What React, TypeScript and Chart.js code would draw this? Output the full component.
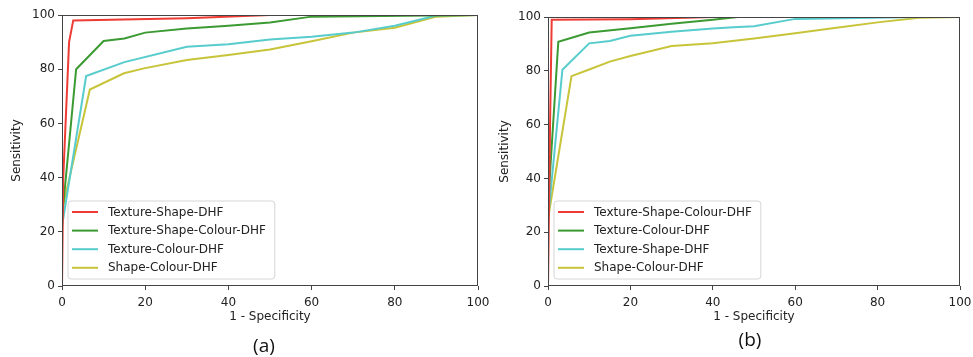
import React, { useEffect, useRef } from "react";
import { Chart, registerables } from "chart.js";

Chart.register(...registerables);

// ---------- data ----------
const xTickValues = [0, 20, 40, 60, 80, 100];
const yTickValues = [0, 20, 40, 60, 80, 100];

const seriesColors = ["#ee3b33", "#3c9a33", "#58cccc", "#c8c43a"];

// Panel (a)
const aLabels = ["Texture-Shape-DHF", "Texture-Shape-Colour-DHF", "Texture-Colour-DHF", "Shape-Colour-DHF"];
const aRedX = [0, 0.3, 1.7, 2.7, 30, 50, 100];
const aRedY = [0, 40, 90, 98, 98.8, 100, 100];
const aGreenX = [0, 0, 3.4, 10, 15, 20, 30, 40, 50, 60, 100];
const aGreenY = [0, 25, 80, 90.4, 91.3, 93.5, 95, 96, 97.2, 99.4, 100];
const aCyanX = [0, 0, 5.8, 15, 30, 40, 50, 60, 70, 80, 90, 100];
const aCyanY = [0, 22, 77.5, 82.6, 88.3, 89.2, 91, 92, 93.5, 96, 99.8, 100];
const aYellowX = [0, 0, 6.7, 14.9, 19.7, 30, 40, 50, 60, 70, 80, 90, 100];
const aYellowY = [0, 28, 72.5, 78.5, 80.3, 83.4, 85.2, 87.3, 90.3, 93.5, 95.3, 99.4, 100];

// Panel (b)
const bLabels = ["Texture-Shape-Colour-DHF", "Texture-Colour-DHF", "Texture-Shape-DHF", "Shape-Colour-DHF"];
const bRedX = [0, 0.5, 0.9, 20, 40, 100];
const bRedY = [0, 60, 99, 99.2, 100, 100];
const bGreenX = [0, 0, 2.5, 10, 20, 30, 40, 46, 100];
const bGreenY = [0, 30, 90.8, 94.2, 95.8, 97.5, 99, 100, 100];
const bCyanX = [0, 0, 3.5, 10, 15, 20, 30, 40, 45, 50, 60, 90, 100];
const bCyanY = [0, 25, 80.4, 90.2, 91.1, 93, 94.5, 95.7, 96.2, 96.6, 99.3, 100, 100];
const bYellowX = [0, 0, 5.7, 10, 15, 20, 30, 40, 50, 60, 70, 80, 90, 100];
const bYellowY = [0, 25, 78, 80.5, 83.4, 85.5, 89.2, 90.2, 92, 94, 96, 98, 99.7, 100];

const FONT = "'DejaVu Sans', sans-serif";

function pts(xs: number[], ys: number[]) {
  return xs.map((x, i) => ({ x, y: ys[i] }));
}

const boxLegendPlugin = {
  id: "boxLegend",
  afterDatasetsDraw(chart: any) {
    const { ctx, chartArea } = chart;
    const ds = chart.data.datasets;
    ctx.save();
    ctx.font = `12px ${FONT}`;
    let maxW = 0;
    ds.forEach((d: any) => {
      maxW = Math.max(maxW, ctx.measureText(d.label).width);
    });
    const bx = chartArea.left + 6;
    const bh = 78;
    const by = chartArea.bottom - 7 - bh;
    const bw = 40 + maxW + 9;
    ctx.beginPath();
    const r = 3;
    ctx.moveTo(bx + r, by);
    ctx.lineTo(bx + bw - r, by);
    ctx.quadraticCurveTo(bx + bw, by, bx + bw, by + r);
    ctx.lineTo(bx + bw, by + bh - r);
    ctx.quadraticCurveTo(bx + bw, by + bh, bx + bw - r, by + bh);
    ctx.lineTo(bx + r, by + bh);
    ctx.quadraticCurveTo(bx, by + bh, bx, by + bh - r);
    ctx.lineTo(bx, by + r);
    ctx.quadraticCurveTo(bx, by, bx + r, by);
    ctx.closePath();
    ctx.fillStyle = "rgba(255,255,255,0.85)";
    ctx.fill();
    ctx.strokeStyle = "#d6d6d6";
    ctx.lineWidth = 1;
    ctx.stroke();
    ds.forEach((d: any, i: number) => {
      const cy = by + 11 + i * 18.6;
      ctx.beginPath();
      ctx.strokeStyle = d.borderColor;
      ctx.lineWidth = 2;
      ctx.moveTo(bx + 4, cy);
      ctx.lineTo(bx + 30, cy);
      ctx.stroke();
      ctx.fillStyle = "#222";
      ctx.textBaseline = "middle";
      ctx.textAlign = "left";
      ctx.fillText(d.label, bx + 40, cy + 0.5);
    });
    ctx.restore();
  },
  afterDraw(chart: any) {
    const { ctx, chartArea } = chart;
    ctx.save();
    ctx.strokeStyle = "#444";
    ctx.lineWidth = 1;
    ctx.strokeRect(
      Math.round(chartArea.left) + 0.5,
      Math.round(chartArea.top) + 0.5,
      Math.round(chartArea.right - chartArea.left) - 1,
      Math.round(chartArea.bottom - chartArea.top) - 1
    );
    ctx.restore();
  },
};

function makeConfig(labels: string[], xsList: number[][], ysList: number[][], top: number, right: number, yTitlePad: number): any {
  return {
    type: "line",
    data: {
      datasets: labels.map((label, i) => ({
        label,
        data: pts(xsList[i], ysList[i]),
        borderColor: seriesColors[i],
        backgroundColor: seriesColors[i],
        borderWidth: 2,
        pointRadius: 0,
        tension: 0,
        fill: false,
      })),
    },
    options: {
      responsive: false,
      maintainAspectRatio: false,
      animation: false,
      devicePixelRatio: 1,
      layout: { padding: { top, right, left: 0, bottom: 27 } },
      plugins: {
        legend: { display: false },
        tooltip: { enabled: false },
      },
      scales: {
        x: {
          type: "linear",
          min: 0,
          max: 100,
          afterBuildTicks: (scale: any) => {
            scale.ticks = xTickValues.map((v) => ({ value: v }));
          },
          afterFit: (scale: any) => {
            scale.height = 44;
            scale.paddingLeft = 0;
            scale.paddingRight = 0;
          },
          ticks: {
            font: { family: FONT, size: 12 },
            color: "#222",
            padding: 6,
            maxRotation: 0,
            autoSkip: false,
          },
          grid: { display: true, drawOnChartArea: false, drawTicks: true, tickLength: 4, color: "#444" },
          border: { display: false },
          title: {
            display: true,
            text: "1 - Specificity",
            font: { family: FONT, size: 12 },
            color: "#222",
            padding: { top: 2, bottom: 6 },
          },
        },
        y: {
          type: "linear",
          min: 0,
          max: 100,
          afterBuildTicks: (scale: any) => {
            scale.ticks = yTickValues.map((v) => ({ value: v }));
          },
          afterFit: (scale: any) => {
            scale.width = 62;
            scale.paddingTop = 0;
            scale.paddingBottom = 0;
          },
          ticks: {
            font: { family: FONT, size: 12 },
            color: "#222",
            padding: 3,
            autoSkip: false,
          },
          grid: { display: true, drawOnChartArea: false, drawTicks: true, tickLength: 4, color: "#444" },
          border: { display: false },
          title: {
            display: true,
            text: "Sensitivity",
            font: { family: FONT, size: 12 },
            color: "#222",
            padding: { top: yTitlePad, bottom: 4 },
          },
        },
      },
    },
    plugins: [boxLegendPlugin],
  };
}

function Panel(props: { cfg: () => any; left: number; width: number; caption: string; captionX: number; captionY: number }) {
  const ref = useRef<HTMLCanvasElement | null>(null);
  useEffect(() => {
    if (!ref.current) return;
    const chart = new Chart(ref.current, props.cfg());
    return () => chart.destroy();
  }, []);
  return (
    <>
      <canvas
        ref={ref}
        width={props.width}
        height={357}
        style={{ position: "absolute", left: props.left, top: 0, width: props.width, height: 357 }}
      />
      <div
        style={{
          position: "absolute",
          left: props.captionX - 30,
          width: 60,
          top: props.captionY - 12,
          height: 24,
          lineHeight: "24px",
          textAlign: "center",
          fontFamily: "'Open Sans', sans-serif",
          fontSize: 19,
          color: "#111",
        }}
      >
        {props.caption}
      </div>
    </>
  );
}

export default function App() {
  return (
    <div style={{ position: "fixed", left: 0, top: 0, width: 973, height: 357, background: "#fff", overflow: "hidden" }}>
      <Panel
        cfg={() =>
          makeConfig(aLabels, [aRedX, aGreenX, aCyanX, aYellowX], [aRedY, aGreenY, aCyanY, aYellowY], 15, 14, 10)
        }
        left={0}
        width={492}
        caption="(a)"
        captionX={264}
        captionY={345}
      />
      <Panel
        cfg={() =>
          makeConfig(bLabels, [bRedX, bGreenX, bCyanX, bYellowX], [bRedY, bGreenY, bCyanY, bYellowY], 17, 13, 12)
        }
        left={486}
        width={487}
        caption="(b)"
        captionX={750}
        captionY={339}
      />
    </div>
  );
}
